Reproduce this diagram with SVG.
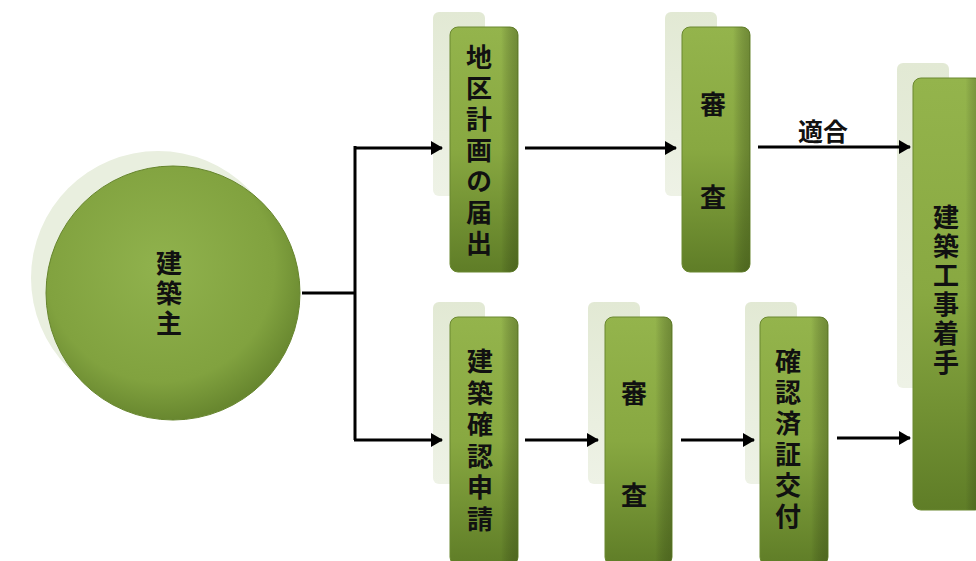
<svg xmlns="http://www.w3.org/2000/svg" width="976" height="561" viewBox="0 0 976 561">
<defs>
<linearGradient id="box" x1="0" y1="0" x2="0" y2="1">
<stop offset="0" stop-color="#94b44c"/>
<stop offset="0.5" stop-color="#88a841"/>
<stop offset="1" stop-color="#5f7d27"/>
</linearGradient>
<linearGradient id="rim" x1="0" y1="0" x2="1" y2="0">
<stop offset="0" stop-color="#000" stop-opacity="0"/>
<stop offset="0.75" stop-color="#000" stop-opacity="0"/>
<stop offset="1" stop-color="#2e3f10" stop-opacity="0.35"/>
</linearGradient>
<linearGradient id="sh" x1="0" y1="0" x2="0" y2="1">
<stop offset="0" stop-color="#e2e9d4"/>
<stop offset="1" stop-color="#eef2e6"/>
</linearGradient>
<radialGradient id="circ" cx="0.45" cy="0.4" r="0.6">
<stop offset="0" stop-color="#90b24d"/>
<stop offset="0.75" stop-color="#81a23f"/>
<stop offset="1" stop-color="#68872f"/>
</radialGradient>
<marker id="ah" viewBox="0 0 12 14" refX="11" refY="7" markerWidth="12" markerHeight="14" markerUnits="userSpaceOnUse" orient="auto">
<path d="M0,0 L12,7 L0,14 Z" fill="#000"/>
</marker>
</defs>
<style>
.sh{fill:url(#sh)}
.bx{fill:url(#box);stroke:#6a8830;stroke-width:1}
.rm{fill:url(#rim)}
.t{font-family:"Noto Sans CJK JP","Noto Sans CJK SC",sans-serif;font-size:26px;font-weight:700;fill:#111;writing-mode:vertical-rl;text-anchor:start}
.c{stroke:#000;stroke-width:3;fill:none}
</style>
<rect width="976" height="561" fill="#fff"/>

<g id="owner">
<circle cx="158" cy="278" r="127" fill="#e9efdf"/>
<circle cx="173" cy="293" r="127" fill="url(#circ)" stroke="#66852d" stroke-width="1"/>
<text class="t" x="169" y="250">建</text>
<text class="t" x="169" y="280">築</text>
<text class="t" x="169" y="310">主</text>
</g>

<g id="chiku">
<rect class="sh" x="433" y="12" width="52" height="184" rx="6"/>
<rect class="bx" x="450" y="27" width="68" height="245" rx="8"/>
<rect class="rm" x="450" y="27" width="68" height="245" rx="8"/>
<text class="t" x="479" y="44">地</text>
<text class="t" x="479" y="75">区</text>
<text class="t" x="479" y="106">計</text>
<text class="t" x="479" y="137">画</text>
<text class="t" x="479" y="168">の</text>
<text class="t" x="479" y="199">届</text>
<text class="t" x="479" y="230">出</text>
</g>

<g id="shinsa1">
<rect class="sh" x="665" y="12" width="52" height="184" rx="6"/>
<rect class="bx" x="682" y="27" width="68" height="245" rx="8"/>
<rect class="rm" x="682" y="27" width="68" height="245" rx="8"/>
<text class="t" x="713" y="91">審</text>
<text class="t" x="713" y="184">査</text>
</g>

<g id="chakushu">
<rect class="sh" x="897" y="63" width="52" height="325" rx="6"/>
<rect class="bx" x="913" y="78" width="70" height="432" rx="8"/>
<rect class="rm" x="913" y="78" width="70" height="432" rx="8"/>
<text class="t" x="946" y="204">建</text>
<text class="t" x="946" y="233">築</text>
<text class="t" x="946" y="262">工</text>
<text class="t" x="946" y="291">事</text>
<text class="t" x="946" y="320">着</text>
<text class="t" x="946" y="349">手</text>
</g>

<g id="shinsei">
<rect class="sh" x="433" y="302" width="52" height="182" rx="6"/>
<rect class="bx" x="450" y="317" width="68" height="248" rx="8"/>
<rect class="rm" x="450" y="317" width="68" height="248" rx="8"/>
<text class="t" x="480" y="348">建</text>
<text class="t" x="480" y="380">築</text>
<text class="t" x="480" y="411">確</text>
<text class="t" x="480" y="443">認</text>
<text class="t" x="480" y="474">申</text>
<text class="t" x="480" y="506">請</text>
</g>

<g id="shinsa2">
<rect class="sh" x="588" y="302" width="52" height="182" rx="6"/>
<rect class="bx" x="605" y="317" width="67" height="248" rx="8"/>
<rect class="rm" x="605" y="317" width="67" height="248" rx="8"/>
<text class="t" x="634" y="380">審</text>
<text class="t" x="634" y="482">査</text>
</g>

<g id="kofu">
<rect class="sh" x="745" y="302" width="52" height="182" rx="6"/>
<rect class="bx" x="760" y="317" width="68" height="248" rx="8"/>
<rect class="rm" x="760" y="317" width="68" height="248" rx="8"/>
<text class="t" x="788" y="348">確</text>
<text class="t" x="788" y="379">認</text>
<text class="t" x="788" y="410">済</text>
<text class="t" x="788" y="441">証</text>
<text class="t" x="788" y="472">交</text>
<text class="t" x="788" y="503">付</text>
</g>

<g id="connectors">
<path class="c" d="M302,293 H355"/>
<path class="c" d="M355,146 V440"/>
<path class="c" d="M354,148 H442" marker-end="url(#ah)"/>
<path class="c" d="M354,440 H442" marker-end="url(#ah)"/>
<path class="c" d="M525,148 H676" marker-end="url(#ah)"/>
<path class="c" d="M758,147 H910" marker-end="url(#ah)"/>
<path class="c" d="M525,440 H598" marker-end="url(#ah)"/>
<path class="c" d="M681,440 H754" marker-end="url(#ah)"/>
<path class="c" d="M837,438 H910" marker-end="url(#ah)"/>
<text x="823" y="141" style="font-family:'Noto Sans CJK JP','Noto Sans CJK SC',sans-serif;font-size:25px;font-weight:700;fill:#111;text-anchor:middle">適合</text>
</g>
</svg>
